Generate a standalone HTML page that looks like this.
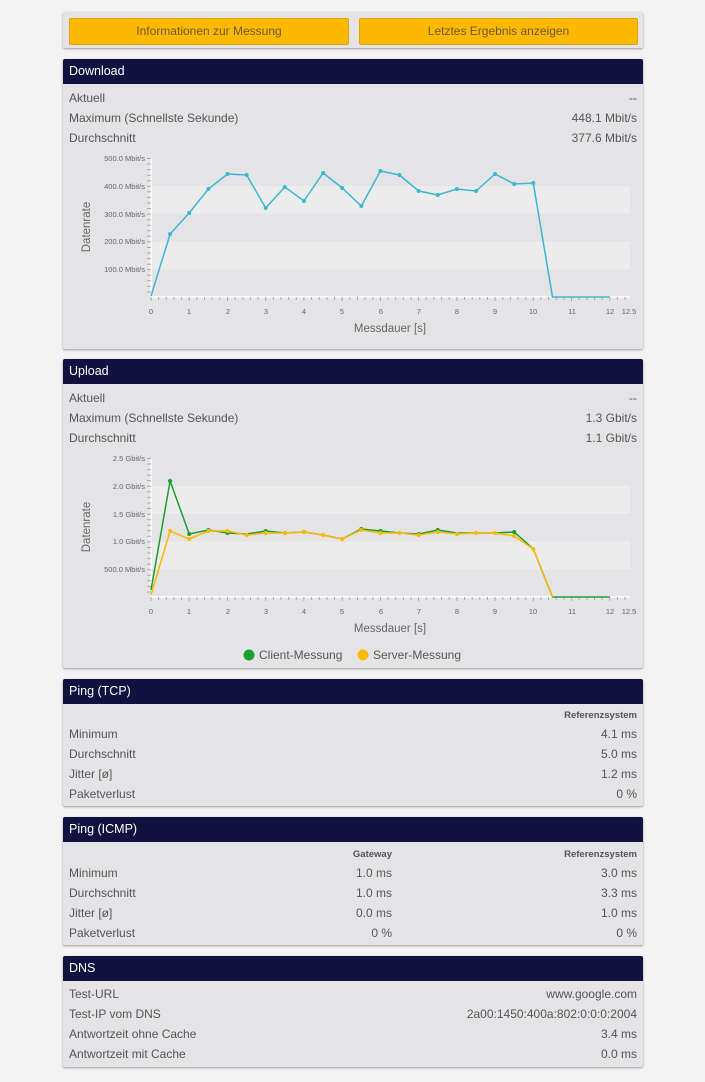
<!DOCTYPE html>
<html><head><meta charset="utf-8"><style>
body{margin:0;width:705px;height:1082px;position:relative;background:#f3f3f3;font-family:"Liberation Sans",sans-serif;overflow:hidden}
.p{position:absolute;left:63px;width:580px;background:#e4e4e6;box-shadow:0 1px 2px #999;border-radius:2px}
.h{height:25px;background:#121240;color:#fff;font-size:12.5px;line-height:25px;padding-left:6px;border-radius:2px 2px 0 0}
.r{position:absolute;left:6px;right:6px;font-size:12px;color:#555;height:20px;line-height:20px}
.r span{position:absolute;right:0}
.r b{position:absolute;font-size:9.5px;color:#555}
.btn{position:absolute;top:6px;height:25px;background:#fdb900;border:1px solid #e0a400;border-radius:2px;color:#6b5a2a;font-size:12px;line-height:25px;text-align:center}
</style></head><body>
<div class="p" style="top:12px;height:36px"><div class="btn" style="left:6px;width:278px">Informationen zur Messung</div><div class="btn" style="left:296px;width:277px">Letztes Ergebnis anzeigen</div></div>
<div class="p" style="top:59px;height:290px"><div class="h">Download</div>
<div class="r" style="top:29px">Aktuell<span>--</span></div>
<div class="r" style="top:49px">Maximum (Schnellste Sekunde)<span>448.1 Mbit/s</span></div>
<div class="r" style="top:69px">Durchschnitt<span>377.6 Mbit/s</span></div></div>
<div class="p" style="top:359px;height:309px"><div class="h">Upload</div>
<div class="r" style="top:29px">Aktuell<span>--</span></div>
<div class="r" style="top:49px">Maximum (Schnellste Sekunde)<span>1.3 Gbit/s</span></div>
<div class="r" style="top:69px">Durchschnitt<span>1.1 Gbit/s</span></div></div>
<div class="p" style="top:679px;height:127px"><div class="h">Ping (TCP)</div>
<div class="r" style="top:27px"><b style="right:0;font-weight:bold">Referenzsystem</b></div>
<div class="r" style="top:45px">Minimum<span>4.1 ms</span></div>
<div class="r" style="top:65px">Durchschnitt<span>5.0 ms</span></div>
<div class="r" style="top:85px">Jitter [ø]<span>1.2 ms</span></div>
<div class="r" style="top:105px">Paketverlust<span>0 %</span></div></div>
<div class="p" style="top:817px;height:128px"><div class="h">Ping (ICMP)</div>
<div class="r" style="top:28px"><b style="right:245px;font-weight:bold">Gateway</b><b style="right:0;font-weight:bold">Referenzsystem</b></div>
<div class="r" style="top:46px">Minimum<b style="right:245px;font-size:12px;font-weight:normal">1.0 ms</b><span>3.0 ms</span></div>
<div class="r" style="top:66px">Durchschnitt<b style="right:245px;font-size:12px;font-weight:normal">1.0 ms</b><span>3.3 ms</span></div>
<div class="r" style="top:86px">Jitter [ø]<b style="right:245px;font-size:12px;font-weight:normal">0.0 ms</b><span>1.0 ms</span></div>
<div class="r" style="top:106px">Paketverlust<b style="right:245px;font-size:12px;font-weight:normal">0 %</b><span>0 %</span></div></div>
<div class="p" style="top:956px;height:111px"><div class="h">DNS</div>
<div class="r" style="top:28px">Test-URL<span>www.google.com</span></div>
<div class="r" style="top:48px">Test-IP vom DNS<span>2a00:1450:400a:802:0:0:0:2004</span></div>
<div class="r" style="top:68px">Antwortzeit ohne Cache<span>3.4 ms</span></div>
<div class="r" style="top:88px">Antwortzeit mit Cache<span>0.0 ms</span></div></div>
<svg width="705" height="1082" style="position:absolute;left:0;top:0" font-family="Liberation Sans,sans-serif">
<defs>
<g id="ax">
<rect x="151" y="186" width="479" height="27.8" fill="#ececec"/><rect x="151" y="241.6" width="479" height="27.8" fill="#ececec"/>
<line x1="151" y1="158" x2="151" y2="297" stroke="#fff" stroke-width="1.5"/><line x1="151" y1="297" x2="630" y2="297" stroke="#fff" stroke-width="1.5"/>
<path d="M147 158.5h4M147 164h4M147 169.6h4M147 175.2h4M147 180.7h4M147 186.3h4M147 191.8h4M147 197.4h4M147 203h4M147 208.5h4M147 214.1h4M147 219.7h4M147 225.2h4M147 230.8h4M147 236.3h4M147 241.9h4M147 247.5h4M147 253h4M147 258.6h4M147 264.2h4M147 269.7h4M147 275.3h4M147 280.8h4M147 286.4h4M147 292h4" stroke="#aaa" stroke-width="1"/>
<path d="M151 297v4M158.6 297v3M166.3 297v3M173.9 297v3M181.6 297v3M189.2 297v4M196.9 297v3M204.5 297v3M212.1 297v3M219.8 297v3M227.5 297v4M235.1 297v3M242.8 297v3M250.4 297v3M258 297v3M265.7 297v4M273.3 297v3M281 297v3M288.6 297v3M296.3 297v3M303.9 297v4M311.6 297v3M319.2 297v3M326.9 297v3M334.5 297v3M342.2 297v4M349.8 297v3M357.5 297v3M365.1 297v3M372.8 297v3M380.4 297v4M388 297v3M395.7 297v3M403.3 297v3M411 297v3M418.6 297v4M426.3 297v3M433.9 297v3M441.6 297v3M449.2 297v3M456.9 297v4M464.5 297v3M472.2 297v3M479.8 297v3M487.5 297v3M495.1 297v4M502.8 297v3M510.4 297v3M518 297v3M525.7 297v3M533.3 297v4M541 297v3M548.6 297v3M556.3 297v3M563.9 297v3M571.6 297v4M579.2 297v3M586.9 297v3M594.5 297v3M602.2 297v3M609.8 297v4M617.4 297v3M625 297v3" stroke="#aaa" stroke-width="1"/>
<g font-size="7.5" fill="#666" text-anchor="middle"><text x="151" y="314">0</text><text x="189" y="314">1</text><text x="228" y="314">2</text><text x="266" y="314">3</text><text x="304" y="314">4</text><text x="342" y="314">5</text><text x="381" y="314">6</text><text x="419" y="314">7</text><text x="457" y="314">8</text><text x="495" y="314">9</text><text x="533" y="314">10</text><text x="572" y="314">11</text><text x="610" y="314">12</text><text x="629" y="314">12.5</text></g>
<text x="390" y="332" font-size="11.5" fill="#666" text-anchor="middle">Messdauer [s]</text>
<text transform="translate(90,227) rotate(-90)" font-size="11.5" fill="#666" text-anchor="middle">Datenrate</text>
</g>
</defs>
<g>
<use href="#ax"/>
<g font-size="7.5" fill="#666" text-anchor="end"><text x="145" y="161">500.0 Mbit/s</text><text x="145" y="189">400.0 Mbit/s</text><text x="145" y="217">300.0 Mbit/s</text><text x="145" y="244">200.0 Mbit/s</text><text x="145" y="272">100.0 Mbit/s</text></g>
<polyline fill="none" stroke="#3bb8cf" stroke-width="1.5" points="151,296 170.1,234 189.2,213 208.4,189 227.5,174 246.6,175 265.7,208 284.8,187 303.9,201 323.1,173 342.2,188 361.3,206 380.4,171 399.5,175 418.6,191 437.8,195 456.9,189 476,191 495.1,174 514.2,184 533.3,183 552.5,297 609.8,297"/>
<g fill="#3bb8cf"><circle cx="170.1" cy="234" r="2"/><circle cx="189.2" cy="213" r="2"/><circle cx="208.4" cy="189" r="2"/><circle cx="227.5" cy="174" r="2"/><circle cx="246.6" cy="175" r="2"/><circle cx="265.7" cy="208" r="2"/><circle cx="284.8" cy="187" r="2"/><circle cx="303.9" cy="201" r="2"/><circle cx="323.1" cy="173" r="2"/><circle cx="342.2" cy="188" r="2"/><circle cx="361.3" cy="206" r="2"/><circle cx="380.4" cy="171" r="2"/><circle cx="399.5" cy="175" r="2"/><circle cx="418.6" cy="191" r="2"/><circle cx="437.8" cy="195" r="2"/><circle cx="456.9" cy="189" r="2"/><circle cx="476" cy="191" r="2"/><circle cx="495.1" cy="174" r="2"/><circle cx="514.2" cy="184" r="2"/><circle cx="533.3" cy="183" r="2"/></g>
</g>
<g transform="translate(0,300)">
<use href="#ax"/>
<g font-size="7.5" fill="#666" text-anchor="end"><text x="145" y="161">2.5 Gbit/s</text><text x="145" y="189">2.0 Gbit/s</text><text x="145" y="217">1.5 Gbit/s</text><text x="145" y="244">1.0 Gbit/s</text><text x="145" y="272">500.0 Mbit/s</text></g>
<polyline fill="none" stroke="#19a030" stroke-width="1.5" points="151,290 170.1,181 189.2,234 208.4,230 227.5,233 246.6,234 265.7,231 284.8,233 303.9,232 323.1,235 342.2,239 361.3,229 380.4,231 399.5,233 418.6,234 437.8,230 456.9,233 476,233 495.1,233 514.2,232 533.3,249 552.5,297 609.8,297"/>
<g fill="#19a030"><circle cx="170.1" cy="181" r="2"/><circle cx="189.2" cy="234" r="2"/><circle cx="208.4" cy="230" r="2"/><circle cx="227.5" cy="233" r="2"/><circle cx="265.7" cy="231" r="2"/><circle cx="284.8" cy="233" r="2"/><circle cx="303.9" cy="232" r="2"/><circle cx="361.3" cy="229" r="2"/><circle cx="380.4" cy="231" r="2"/><circle cx="418.6" cy="234" r="2"/><circle cx="437.8" cy="230" r="2"/><circle cx="514.2" cy="232" r="2"/></g>
<polyline fill="none" stroke="#fdb900" stroke-width="1.5" points="151,295 170.1,231 189.2,239 208.4,231 227.5,231 246.6,235 265.7,233 284.8,233 303.9,232 323.1,235 342.2,239 361.3,230 380.4,233 399.5,233 418.6,235 437.8,232 456.9,234 476,233 495.1,233 514.2,236 533.3,249 552.5,297"/>
<g fill="#fdb900"><circle cx="170.1" cy="231" r="2"/><circle cx="189.2" cy="239" r="2"/><circle cx="208.4" cy="231" r="2"/><circle cx="227.5" cy="231" r="2"/><circle cx="246.6" cy="235" r="2"/><circle cx="265.7" cy="233" r="2"/><circle cx="284.8" cy="233" r="2"/><circle cx="303.9" cy="232" r="2"/><circle cx="323.1" cy="235" r="2"/><circle cx="342.2" cy="239" r="2"/><circle cx="361.3" cy="230" r="2"/><circle cx="380.4" cy="233" r="2"/><circle cx="399.5" cy="233" r="2"/><circle cx="418.6" cy="235" r="2"/><circle cx="437.8" cy="232" r="2"/><circle cx="456.9" cy="234" r="2"/><circle cx="476" cy="233" r="2"/><circle cx="495.1" cy="233" r="2"/><circle cx="514.2" cy="236" r="2"/><circle cx="533.3" cy="249" r="2"/></g>
<circle cx="249" cy="355" r="5.5" fill="#19a030"/><text x="259" y="359" font-size="12" fill="#555">Client-Messung</text>
<circle cx="363" cy="355" r="5.5" fill="#fdb900"/><text x="373" y="359" font-size="12" fill="#555">Server-Messung</text>
</g>
</svg>
</body></html>
